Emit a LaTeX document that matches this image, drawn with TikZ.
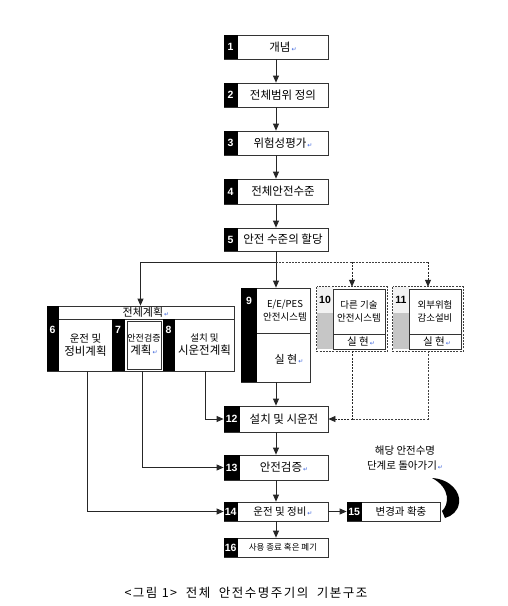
\documentclass[tikz,border=0pt]{standalone}
\usepackage{fontspec}
\setmainfont{Noto Sans CJK KR}
\newfontfamily\capfont{Noto Sans CJK KR}
\newfontfamily\numfont{Liberation Sans}
\newfontfamily\dvfont{DejaVu Sans}
\usetikzlibrary{arrows.meta,calc}
\definecolor{rblue}{RGB}{60,100,220}
\newcommand{\rmk}{{\dvfont\color{rblue}\fontsize{6}{6}\selectfont\,↵}}
\tikzset{
  boxst/.style={draw=black!80, line width=0.8pt, fill=white, inner sep=0pt},
  thinbox/.style={draw=black!80, line width=0.6pt},
  numst/.style={text=white, font=\numfont\bfseries\fontsize{10.5}{12}\selectfont, inner sep=0pt},
  txtst/.style={font=\fontsize{11.5}{13}\selectfont, align=center, inner sep=0pt},
  arr/.style={-{Triangle[length=7pt,width=6pt]}, line width=0.8pt, draw=black!85},
  darr/.style={arr, dash pattern=on 2pt off 1.2pt},
  dline/.style={line width=0.9pt, dash pattern=on 2pt off 1.2pt, draw=black!75}
}
\newcommand{\mkbox}[8]{%
  \node[boxst, minimum width={(#5-#3)*1pt}, minimum height={(#6-#4)*1pt}] (#1) at ({(#3+#5)/2},{(#4+#6)/2}) {};
  \fill[black] (#1.north west) rectangle ([xshift=#7pt]#1.south west);
  \node[numst] at ([xshift=#7pt/2]#1.west) {#2};
  \node[txtst] at ($([xshift=#7pt]#1.west)!0.5!(#1.east)$) {#8};
}
\newcommand{\tbox}[8]{%
  \node[boxst, minimum width={(#5-#3)*1pt}, minimum height={(#6-#4)*1pt}] (#1) at ({(#3+#5)/2},{(#4+#6)/2}) {};
  \fill[black] (#1.north west) rectangle ([xshift=#7pt]#1.south west);
  \node[numst, anchor=north] at ($([xshift=#7pt/2]#1.north west)+(0,7)$) {#2};
  \node[txtst] at ($([xshift=#7pt]#1.west)!0.5!(#1.east)$) {#8};
}
\begin{document}
\begin{tikzpicture}[x=1pt,y=-1pt]
\useasboundingbox (0,0) rectangle (507,606);
\fill[white] (0,0) rectangle (507,606);

% main chain
\mkbox{b1}{1}{224}{35}{328}{59}{14}{개념\rmk}
\mkbox{b2}{2}{224}{83}{328}{107}{14}{전체범위 정의}
\mkbox{b3}{3}{224}{131}{328}{155}{14}{위험성평가\rmk}
\mkbox{b4}{4}{224}{179}{328}{204}{14}{전체안전수준}
\mkbox{b5}{5}{224}{228}{328}{251}{14}{안전 수준의 할당}
\mkbox{b12}{12}{224}{406}{328}{432}{16}{설치 및 시운전}
\mkbox{b13}{13}{224}{455}{328}{480}{16}{안전검증\rmk}
\mkbox{b14}{14}{224}{502}{328}{521}{14}{\fontsize{10.5}{12}\selectfont 운전 및 정비\rmk}
\mkbox{b15}{15}{347}{502}{440}{521}{15}{\fontsize{10.5}{12}\selectfont 변경과 확충}
\mkbox{b16}{16}{224}{538}{328}{557}{14}{\fontsize{8.5}{10}\selectfont 사용 종료 혹은 폐기}

% overall planning group
\node[boxst, minimum width=187pt, minimum height=13pt] (hdr) at (140.5,312.5) {};
\fill[black] (hdr.north west) rectangle ([xshift=12pt]hdr.south west);
\node[txtst, font=\fontsize{11}{12}\selectfont] (hdrt) at (146,312.5) {전체계획\rmk};
\tbox{b6}{6}{47}{319}{112}{371}{12}{\fontsize{10.5}{13}\selectfont 운전 및\\정비계획}
\tbox{b7}{7}{112}{319}{163}{371}{13}{\fontsize{9}{13}\selectfont 안전검증\\계획\rmk}
\draw[thinbox] (127,321) rectangle (161,369);
\tbox{b8}{8}{163}{319}{234}{371}{12}{\fontsize{9.5}{13}\selectfont 설치 및\\시운전계획}

% box 9
\node[boxst, minimum width=69pt, minimum height=94pt] (b9) at (276,335) {};
\fill[black] (b9.north west) rectangle ([xshift=16pt]b9.south west);
\draw[thinbox] ($(b9.west)+(16,-2)$) -- ($(b9.east)+(0,-2)$);
\node[numst, anchor=north] at ($([xshift=8pt]b9.north west)+(0,9)$) {9};
\node[txtst, font=\fontsize{9.5}{13}\selectfont] at (285,311) {E/E/PES\\안전시스템};
\node[txtst, font=\fontsize{11}{12}\selectfont] at (289,359) {실 현\rmk};

% box 10
\node[minimum width=70pt, minimum height=64pt, inner sep=0pt] (b10) at (352,319) {};
\fill[gray!10] (317,287) rectangle (333,313);
\fill[gray!45] (317,313) rectangle (333,349);
\draw[thinbox, fill=white] (333,289) rectangle (385,334);
\draw[thinbox, fill=white] (333,334) rectangle (385,349);
\draw[dline] (b10.north west) rectangle (b10.south east);
\node[numst, text=black, anchor=north] at (325,296) {10};
\node[txtst, font=\fontsize{9.5}{13}\selectfont] at (359,311) {다른 기술\\안전시스템};
\node[txtst, font=\fontsize{10.5}{12}\selectfont] at (361,342) {실 현\rmk};

% box 11
\node[minimum width=70pt, minimum height=64pt, inner sep=0pt] (b11) at (428,319) {};
\fill[gray!10] (393,287) rectangle (409,313);
\fill[gray!45] (393,313) rectangle (409,349);
\draw[thinbox, fill=white] (409,289) rectangle (461,334);
\draw[thinbox, fill=white] (409,334) rectangle (461,349);
\draw[dline] (b11.north west) rectangle (b11.south east);
\node[numst, text=black, anchor=north] at (401,296) {11};
\node[txtst, font=\fontsize{9.5}{13}\selectfont] at (435,311) {외부위험\\감소설비};
\node[txtst, font=\fontsize{10.5}{12}\selectfont] at (437,342) {실 현\rmk};

% connectors main chain
\draw[arr] (b1.south) -- (b2.north);
\draw[arr] (b2.south) -- (b3.north);
\draw[arr] (b3.south) -- (b4.north);
\draw[arr] (b4.south) -- (b5.north);
\coordinate (j) at (276,262);
\draw[arr] (b5.south) -- (j) -| (hdr.north);
\draw[arr] (j) -- (j |- b9.north);
\draw[dline] (j) -- (j -| b11.north);
\draw[darr] (j -| b10.north) -- (b10.north);
\draw[darr] (j -| b11.north) -- (b11.north);
\draw[arr] (b9.south) -- (b9.south |- b12.north);
\draw[darr] (b10.south) |- (b12.east);
\draw[dline] (b11.south) |- (b10.south |- b12.east);
\draw[arr] ([xshift=6.5pt]b8.south) |- (b12.west);
\draw[arr] ([xshift=4.5pt]b7.south) |- (b13.west);
\draw[arr] ([xshift=7.5pt]b6.south) |- (b14.west);
\draw[arr] (b12.south) -- (b13.north);
\draw[arr] (b13.south) -- (b14.north);
\draw[arr] (b14.south) -- (b16.north);
\draw[arr] (b14.east) -- (b15.west);

% return note and curved mark
\node[txtst, font=\fontsize{10.5}{15}\selectfont] (note) at (405,458.5) {해당 안전수명\\단계로 돌아가기\rmk};
\fill[black] (432,478) .. controls (450,479) and (461,492) .. (459,503)
  .. controls (458,511) and (452,516) .. (445,518) -- (442,511)
  .. controls (449,505) and (451,488) .. (432,478) -- cycle;

% caption
\node[inner sep=0pt, font=\capfont\fontsize{12.5}{14}\selectfont\addfontfeature{LetterSpace=12}] (cap) at (246,593) {<그림 1>\ \ 전체\ \ 안전수명주기의\ \ 기본구조};
\end{tikzpicture}
\end{document}
